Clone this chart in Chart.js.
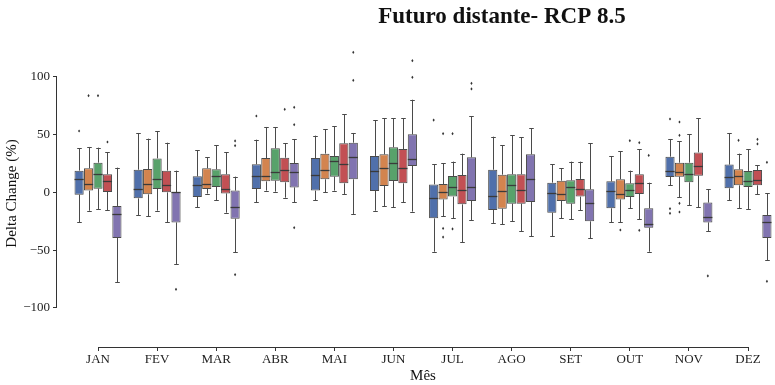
<!doctype html>
<html>
<head>
<meta charset="utf-8">
<title>Futuro distante- RCP 8.5</title>
<script src="https://cdn.jsdelivr.net/npm/chart.js"></script>
<style>
    body { margin: 0; background: #fff; }
    #chart { display: block; }
</style>
</head>
<body>
<canvas id="chart" width="775" height="385"></canvas>
<script>
// Months and y ticks
const months = ['JAN', 'FEV', 'MAR', 'ABR', 'MAI', 'JUN', 'JUL', 'AGO', 'SET', 'OUT', 'NOV', 'DEZ'];
const yTicks = [-100, -50, 0, 50, 100];

// Model 1
const low1  = [-25.9, -19.5, -12.9, -8.6, -6.8, -15.8, -51.3, -26.4, -37.7, -25.6, 6.2, -6.8];
const q1_1  = [-1.9, -5.1, -3.9, 3.0, 1.6, 1.3, -22.4, -15.2, -17.5, -13.7, 13.4, 3.6];
const med1  = [11.4, 3.0, 6.8, 14.2, 15.1, 18.9, -5.1, -3.1, -0.8, 1.0, 18.3, 13.4];
const q3_1  = [18.9, 19.7, 14.0, 24.4, 29.8, 31.6, 7.0, 19.7, 8.5, 9.6, 31.0, 24.1];
const high1 = [38.2, 51.5, 36.5, 45.7, 49.2, 62.7, 24.4, 48.3, 24.4, 31.3, 46.3, 51.5];
const out1  = [[53.2], [], [], [66.2], [], [], [62.7], [], [], [], [63.6, -14.0, -18.1], []];

// Model 2
const low2  = [-15.8, -20.4, -1.0, 1.6, 0.1, -11.7, -20.4, -27.6, -22.4, -25.6, -4.2, -13.7];
const q1_2  = [1.6, -1.6, 3.0, 9.6, 11.4, 5.6, -6.0, -14.0, -7.4, -6.0, 13.7, 6.2];
const med2  = [7.6, 7.0, 7.3, 14.0, 19.4, 21.2, 0.1, 1.6, -1.3, -1.6, 17.4, 14.0];
const q3_2  = [20.9, 20.3, 20.9, 29.8, 33.6, 33.0, 7.3, 15.4, 10.2, 11.4, 25.8, 20.0];
const high2 = [39.4, 46.6, 30.4, 56.7, 54.9, 64.2, 25.2, 40.8, 20.9, 35.9, 44.3, 33.6];
const out2  = [[83.8], [], [], [], [], [], [50.9, -31.1, -38.6], [], [], [-32.5], [61.0, 49.5, -9.4, -16.9], [45.1]];

// Model 3
const low3  = [-14.3, -15.8, -6.8, 0.7, 1.6, -12.9, -22.4, -25.0, -23.3, -13.5, -11.1, -14.3];
const q1_3  = [3.3, 3.0, 4.7, 10.2, 13.7, 9.9, -3.6, -9.7, -9.7, -3.9, 8.8, 4.7];
const med3  = [15.7, 11.4, 14.0, 17.4, 26.9, 25.8, 5.0, 6.2, 5.0, 2.4, 15.7, 9.6];
const q3_3  = [25.8, 29.5, 20.0, 38.2, 31.6, 39.1, 14.2, 15.7, 10.5, 7.9, 25.8, 18.6];
const high3 = [38.8, 53.2, 40.8, 56.7, 57.5, 64.2, 26.7, 49.5, 26.7, 18.9, 50.6, 37.3];
const out3  = [[83.8], [], [], [], [], [], [50.9, -31.6], [], [], [44.8], [], []];

// Model 4
const low4  = [-15.2, -25.9, -17.5, -4.5, -1.3, -8.3, -42.9, -33.4, -15.5, -23.3, -12.9, -1.6];
const q1_4  = [0.4, 0.1, -0.8, 8.8, 7.9, 7.9, -10.3, -9.7, -3.6, -1.3, 14.5, 6.2];
const med4  = [9.9, 6.2, 3.0, 19.7, 24.4, 21.2, 2.4, 2.4, 3.3, 8.5, 22.9, 10.5];
const q3_4  = [15.7, 18.9, 15.7, 30.1, 42.5, 37.6, 15.1, 15.7, 11.7, 15.7, 34.7, 19.4];
const high4 = [34.7, 43.1, 34.7, 42.5, 67.6, 64.2, 33.6, 47.7, 26.7, 37.3, 64.2, 23.5];
const out4  = [[43.7], [], [], [72.0], [], [], [], [], [], [43.1, -32.8], [], [46.0, 42.0]];

// Model 5
const low5  = [-77.8, -61.9, -51.8, -8.6, -18.6, -16.6, -24.1, -37.7, -39.7, -51.3, -33.4, -58.5];
const q1_5  = [-39.4, -25.9, -22.7, 4.4, 11.4, 22.9, -7.4, -8.3, -25.0, -30.5, -25.9, -39.4];
const med5  = [-18.6, 0.0, -12.3, 17.4, 31.0, 29.0, 4.7, 11.7, -9.1, -27.6, -21.2, -25.9];
const q3_5  = [-11.7, 0.3, 1.6, 25.5, 43.1, 50.3, 30.4, 33.0, 2.7, -13.7, -8.8, -19.5];
const high5 = [21.5, 18.9, 13.7, 46.3, 51.5, 80.3, 65.9, 55.8, 42.5, 8.5, 3.0, -0.8];
const out5  = [[], [-83.9], [44.6, 40.5, -71.2], [73.7, 58.7, -30.5], [121.3, 97.1], [114.1, 99.7], [94.5, 89.6], [], [], [32.1], [-72.3], [26.1, -76.9]];

const series = [
    { name: 'Modelo 1', low: low1, q1: q1_1, med: med1, q3: q3_1, high: high1, out: out1 },
    { name: 'Modelo 2', low: low2, q1: q1_2, med: med2, q3: q3_2, high: high2, out: out2 },
    { name: 'Modelo 3', low: low3, q1: q1_3, med: med3, q3: q3_3, high: high3, out: out3 },
    { name: 'Modelo 4', low: low4, q1: q1_4, med: med4, q3: q3_4, high: high4, out: out4 },
    { name: 'Modelo 5', low: low5, q1: q1_5, med: med5, q3: q3_5, high: high5, out: out5 }
];
const fills = ['#5070ab', '#d3844f', '#58a26b', '#c25054', '#8174b0'];

const serif = "'Liberation Serif', 'DejaVu Serif', serif";
const lineGrey = '#4a4a4a';

// whiskers + caps under the boxes, medians + fliers on top
const boxParts = {
    id: 'boxParts',
    beforeDatasetsDraw(chart) {
        const ctx = chart.ctx, y = chart.scales.y;
        ctx.save();
        ctx.strokeStyle = lineGrey;
        ctx.lineWidth = 1;
        series.forEach((s, d) => {
            chart.getDatasetMeta(d).data.forEach((el, i) => {
                const x = Math.round(el.x) + 0.5, cap = el.width * 0.25;
                const yl = y.getPixelForValue(s.low[i]), yh = y.getPixelForValue(s.high[i]);
                ctx.beginPath();
                ctx.moveTo(x, y.getPixelForValue(s.q1[i])); ctx.lineTo(x, yl);
                ctx.moveTo(x, y.getPixelForValue(s.q3[i])); ctx.lineTo(x, yh);
                ctx.moveTo(x - cap, Math.round(yl) + 0.5); ctx.lineTo(x + cap, Math.round(yl) + 0.5);
                ctx.moveTo(x - cap, Math.round(yh) + 0.5); ctx.lineTo(x + cap, Math.round(yh) + 0.5);
                ctx.stroke();
            });
        });
        ctx.restore();
    },
    afterDatasetsDraw(chart) {
        const ctx = chart.ctx, y = chart.scales.y;
        ctx.save();
        series.forEach((s, d) => {
            chart.getDatasetMeta(d).data.forEach((el, i) => {
                const half = el.width / 2;
                const ym = Math.round(y.getPixelForValue(s.med[i])) + 0.5;
                ctx.strokeStyle = '#3a3a3a';
                ctx.lineWidth = 1.3;
                ctx.beginPath();
                ctx.moveTo(el.x - half, ym); ctx.lineTo(el.x + half, ym);
                ctx.stroke();
                ctx.fillStyle = '#333';
                s.out[i].forEach(v => {
                    const yo = y.getPixelForValue(v);
                    ctx.beginPath();
                    ctx.moveTo(el.x, yo - 1.6); ctx.lineTo(el.x + 1.1, yo);
                    ctx.lineTo(el.x, yo + 1.6); ctx.lineTo(el.x - 1.1, yo);
                    ctx.closePath();
                    ctx.fill();
                });
            });
        });
        ctx.restore();
    }
};

// trimmed spines, x title and the figure title
const frame = {
    id: 'frame',
    afterDraw(chart) {
        const ctx = chart.ctx, x = chart.scales.x, y = chart.scales.y, area = chart.chartArea;
        ctx.save();
        ctx.strokeStyle = '#333';
        ctx.lineWidth = 1;
        const left = Math.round(area.left) - 0.5, bottom = Math.round(area.bottom) + 0.5;
        ctx.beginPath();
        ctx.moveTo(left, y.getPixelForValue(yTicks[0]));
        ctx.lineTo(left, y.getPixelForValue(yTicks[yTicks.length - 1]));
        ctx.moveTo(x.getPixelForValue(0), bottom);
        ctx.lineTo(x.getPixelForValue(months.length - 1), bottom);
        ctx.stroke();

        ctx.fillStyle = '#111';
        ctx.textAlign = 'center';
        ctx.textBaseline = 'middle';
        ctx.font = '15px ' + serif;
        ctx.fillText('Mês', x.getPixelForValue((months.length - 1) / 2), 376);
        ctx.font = 'bold 23px ' + serif;
        ctx.fillText('Futuro distante- RCP 8.5', 502, 17);
        ctx.restore();
    }
};

new Chart(document.getElementById('chart'), {
    type: 'bar',
    data: {
        datasets: series.map((s, d) => ({
            label: s.name,
            data: months.map((m, i) => ({ x: i, y: [s.q1[i], s.q3[i]] })),
            backgroundColor: fills[d],
            borderColor: lineGrey,
            borderWidth: 1,
            borderSkipped: false,
            categoryPercentage: 0.8,
            barPercentage: 0.97
        }))
    },
    options: {
        responsive: false,
        animation: false,
        layout: { padding: { top: 40, right: 3, left: 0, bottom: 0 } },
        plugins: {
            legend: { display: false },
            tooltip: { enabled: false }
        },
        scales: {
            x: {
                type: 'linear',
                offset: false,
                min: -0.694,
                max: 11.406,
                afterBuildTicks: scale => { scale.ticks = months.map((m, i) => ({ value: i })); },
                afterFit: scale => { scale.height = 38; },
                ticks: {
                    callback: v => months[v],
                    color: '#222',
                    padding: 1,
                    maxRotation: 0,
                    autoSkip: false,
                    font: { family: serif, size: 13 }
                },
                grid: { offset: false, drawOnChartArea: false, drawTicks: true, tickLength: 4, color: '#333' },
                border: { display: false }
            },
            y: {
                min: -133.8,
                max: 132.0,
                afterBuildTicks: scale => { scale.ticks = yTicks.map(v => ({ value: v })); },
                afterFit: scale => { scale.width = 57; },
                ticks: {
                    callback: v => v < 0 ? '\u2212' + Math.abs(v) : String(v),
                    color: '#222',
                    padding: 3,
                    font: { family: serif, size: 13 }
                },
                grid: { drawOnChartArea: false, drawTicks: true, tickLength: 4, color: '#333' },
                border: { display: false },
                title: {
                    display: true,
                    text: 'Delta Change (%)',
                    color: '#111',
                    padding: { top: 3, bottom: 0 },
                    font: { family: serif, size: 15 }
                }
            }
        }
    },
    plugins: [boxParts, frame]
});
</script>
</body>
</html>
